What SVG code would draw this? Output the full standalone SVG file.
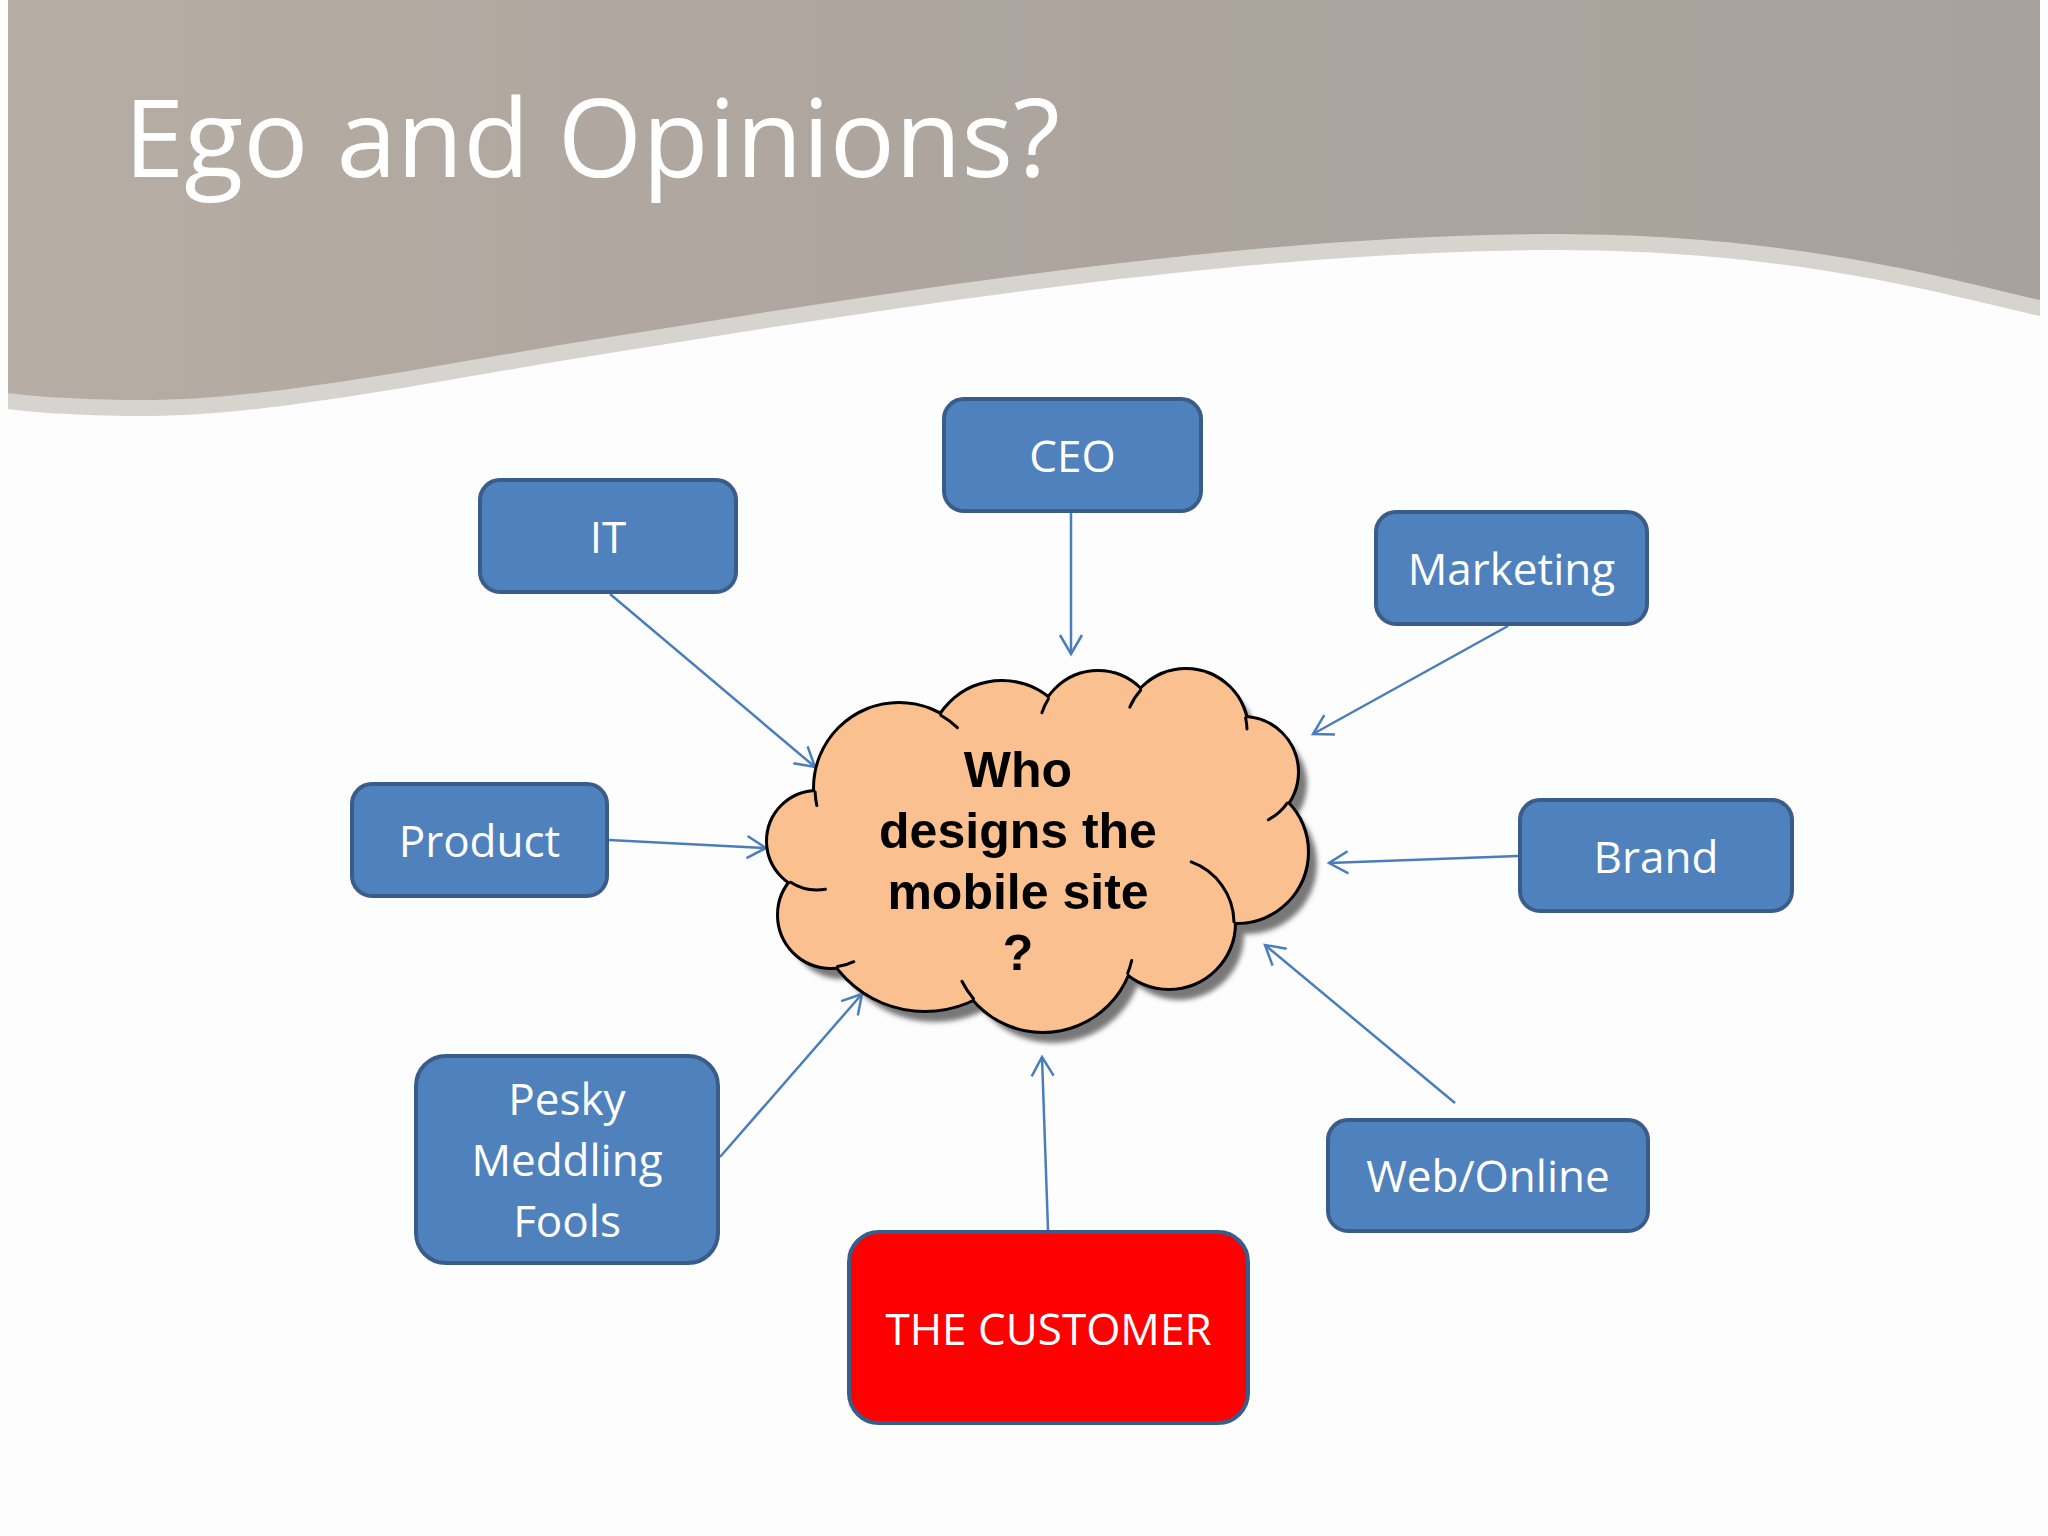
<svg xmlns="http://www.w3.org/2000/svg" xmlns:xlink="http://www.w3.org/1999/xlink" width="2048" height="1536" viewBox="0 0 2048 1536">
<defs>
  <style>
    .box rect { fill:#4F81BD; stroke:#385D8A; stroke-width:4; }
    .box.red rect { fill:#FF0000; }
    .lbl { font-family:"Open Sans","Liberation Sans",sans-serif; font-size:44px; fill:#FFFFFF; text-anchor:middle; }
    .conn line { stroke:#4A7EBB; stroke-width:2.5; fill:none; marker-end:url(#arr); }
    .crease { fill:none; stroke:#000000; stroke-width:3; stroke-linecap:round; }
    .ctext { font-family:"Liberation Sans",Arial,sans-serif; font-weight:bold; font-size:50px; text-anchor:middle; fill:#000000; }
    .title { font-family:"Open Sans","Liberation Sans",sans-serif; font-size:108px; fill:#FFFFFF; }
  </style>
  <linearGradient id="hdr" x1="0" y1="0" x2="1" y2="0">
    <stop offset="0" stop-color="#B6ADA4"/>
    <stop offset="0.45" stop-color="#ADA59E"/>
    <stop offset="1" stop-color="#A9A29C"/>
  </linearGradient>
  <filter id="blur" x="-10%" y="-10%" width="120%" height="120%">
    <feGaussianBlur stdDeviation="2.5"/>
  </filter>
  <marker id="arr" markerUnits="userSpaceOnUse" markerWidth="30" markerHeight="30" viewBox="-25 -15 30 30" refX="0" refY="0" orient="auto">
    <path d="M-19,-11 L0,0 L-19,11" fill="none" stroke="#4A7EBB" stroke-width="2.5"/>
  </marker>
  <g id="cloudBase">
    <polygon stroke="none" points="899,788 1002,755 1098,731 1186,731 1243,772 1237,852 1169,923 1043,940 925,900 831,915 817,841"/>
    <circle cx="899" cy="788" r="84"/>
    <circle cx="1002" cy="755" r="73"/>
    <circle cx="1098" cy="731" r="59"/>
    <circle cx="1186" cy="731" r="61"/>
    <circle cx="1243" cy="772" r="54"/>
    <circle cx="1237" cy="852" r="70"/>
    <circle cx="1169" cy="923" r="65"/>
    <circle cx="1043" cy="940" r="91"/>
    <circle cx="925" cy="900" r="110"/>
    <circle cx="831" cy="915" r="52"/>
    <circle cx="817" cy="841" r="49"/>
  </g>
</defs>

<rect x="0" y="0" width="2048" height="1536" fill="#FDFDFE"/>

<g id="header">
  <path d="M8,0 H2040 V316 C1950,296 1800,251 1560,250 C1250,250 900,306 560,361 C400,388 250,418 130,416 C60,415 20,411 8,409 Z" fill="#D7D3CE"/>
  <path d="M8,0 H2040 V300 C1950,280 1800,235 1560,234 C1250,234 900,290 560,345 C400,372 250,402 130,400 C60,399 20,395 8,393 Z" fill="url(#hdr)"/>
  <text class="title" x="124" y="177" textLength="936" lengthAdjust="spacingAndGlyphs">Ego and Opinions?</text>
</g>

<g id="connectors" class="conn">
  <line x1="1071" y1="513" x2="1071" y2="654"/>
  <line x1="610" y1="594" x2="815" y2="767"/>
  <line x1="1508" y1="626" x2="1313" y2="734"/>
  <line x1="1518" y1="856" x2="1329" y2="863"/>
  <line x1="609" y1="840" x2="766" y2="848"/>
  <line x1="720" y1="1157" x2="862" y2="994"/>
  <line x1="1048" y1="1230" x2="1042" y2="1057"/>
  <line x1="1455" y1="1103" x2="1265" y2="945"/>
</g>

<g id="cloud">
  <use xlink:href="#cloudBase" href="#cloudBase" fill="#787878" transform="translate(10,12)" filter="url(#blur)"/>
  <use xlink:href="#cloudBase" href="#cloudBase" fill="#FAC090" stroke="#000000" stroke-width="6"/>
  <use xlink:href="#cloudBase" href="#cloudBase" fill="#FAC090" stroke="none"/>
  <path class="crease" d="M815.1,792 A84,84 0 0 0 816.8,805.5"/>
  <path class="crease" d="M940.8,715.2 A84,84 0 0 1 957.4,727.6"/>
  <path class="crease" d="M1048.5,698.7 A59,59 0 0 0 1041.9,712.8"/>
  <path class="crease" d="M1140.6,690.2 A61,61 0 0 0 1129.8,707.2"/>
  <path class="crease" d="M1245.6,718 A61,61 0 0 1 1247,728.9"/>
  <path class="crease" d="M1287.2,803.1 A54,54 0 0 1 1268.4,819.7"/>
  <path class="crease" d="M1191.2,861.9 A65,65 0 0 1 1234,922"/>
  <path class="crease" d="M1127.7,973.3 A91,91 0 0 0 1131.7,960.5"/>
  <path class="crease" d="M961.9,981.3 A91,91 0 0 0 973.5,998.8"/>
  <path class="crease" d="M837.5,966.6 A52,52 0 0 0 853.8,961.7"/>
  <path class="crease" d="M790.6,882.3 A49,49 0 0 0 825.5,889.3"/>
  <text class="ctext" x="1018" y="787">Who</text>
  <text class="ctext" x="1018" y="848">designs the</text>
  <text class="ctext" x="1018" y="909">mobile site</text>
  <text class="ctext" x="1018" y="970">?</text>
</g>

<g id="node-ceo" class="box">
  <rect x="944" y="399" width="257" height="112" rx="20"/>
  <text class="lbl" x="1072.5" y="472">CEO</text>
</g>
<g id="node-it" class="box">
  <rect x="480" y="480" width="256" height="112" rx="20"/>
  <text class="lbl" x="608" y="553">IT</text>
</g>
<g id="node-marketing" class="box">
  <rect x="1376" y="512" width="271" height="112" rx="20"/>
  <text class="lbl" x="1511.5" y="585">Marketing</text>
</g>
<g id="node-product" class="box">
  <rect x="352" y="784" width="255" height="112" rx="20"/>
  <text class="lbl" x="479.5" y="857">Product</text>
</g>
<g id="node-brand" class="box">
  <rect x="1520" y="800" width="272" height="111" rx="20"/>
  <text class="lbl" x="1656" y="873">Brand</text>
</g>
<g id="node-pesky" class="box">
  <rect x="416" y="1056" width="302" height="207" rx="30"/>
  <text class="lbl" x="567" y="1115">Pesky</text>
  <text class="lbl" x="567" y="1176">Meddling</text>
  <text class="lbl" x="567" y="1237">Fools</text>
</g>
<g id="node-web" class="box">
  <rect x="1328" y="1120" width="320" height="111" rx="20"/>
  <text class="lbl" x="1488" y="1192">Web/Online</text>
</g>
<g id="node-customer" class="box red">
  <rect x="849" y="1232" width="399" height="191" rx="30"/>
  <text class="lbl" x="1048.5" y="1345">THE CUSTOMER</text>
</g>
</svg>
